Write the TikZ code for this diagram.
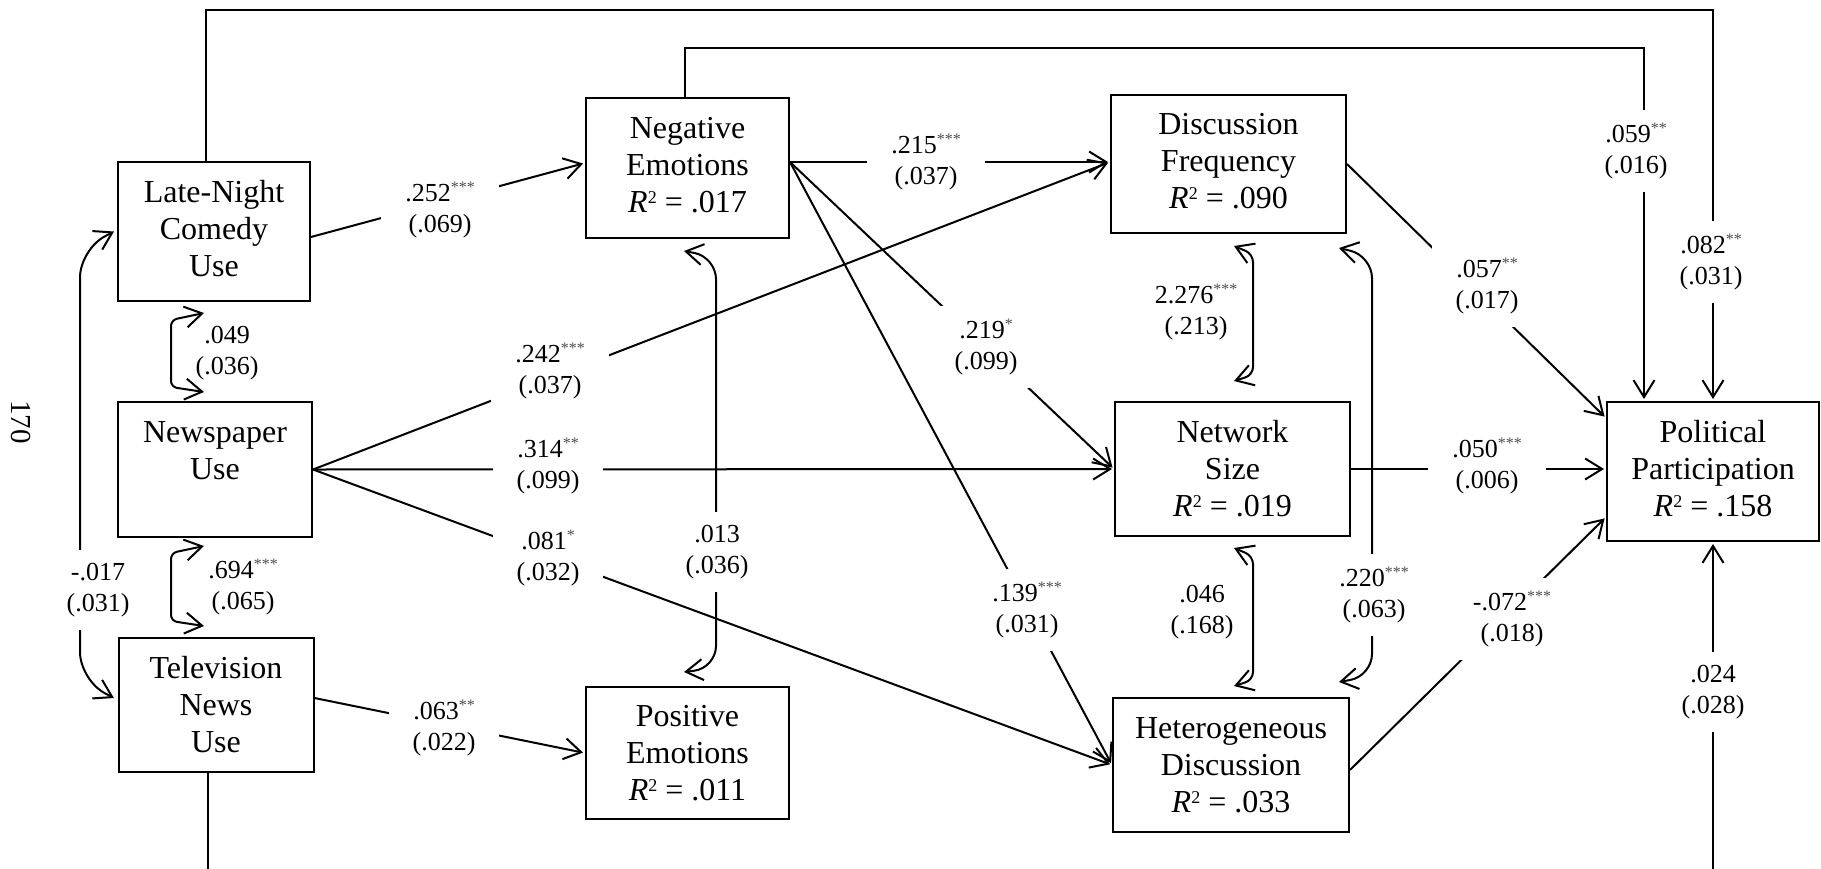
\documentclass[tikz,border=0pt]{standalone}
\usepackage{fontspec}
\setmainfont{Liberation Serif}
\usetikzlibrary{arrows.meta}
\definecolor{starcol}{gray}{0.3}
% significance stars and R-squared lines
\newcommand{\sigstar}[1]{\raisebox{9pt}{\fontsize{16}{16}\selectfont\color{starcol}#1}}
\newcommand{\rsq}[1]{\textit{R}\raisebox{9pt}{\fontsize{18}{18}\selectfont 2} = #1}
\newcommand{\coef}[3]{#1\sigstar{#2}\\(#3)}
\begin{document}
\begin{tikzpicture}[x=1pt,y=-1pt,
  >={Straight Barb[length=17pt,width=21pt]},
  box/.style={draw, line width=2pt, align=center, inner sep=0pt,
    font=\fontsize{32}{37}\selectfont},
  raised/.style={text depth=7pt},
  lab/.style={align=center, fill=white, inner xsep=24pt, inner ysep=13pt,
    font=\fontsize{26}{31}\selectfont},
  labn/.style={align=center, inner sep=0pt, font=\fontsize{26}{31}\selectfont},
  con/.style={line width=2pt, ->, shorten >=2pt},
  corr/.style={line width=2pt, <->}]
\useasboundingbox (0,0) rectangle (1821,868);
\clip (0,0) rectangle (1821,868);

% variables
\node[box, raised, minimum width=192pt, minimum height=139pt] (ln) at (214,231.5) {Late-Night\\Comedy\\Use};
\node[box, minimum width=194pt, minimum height=135pt] (np) at (215,469.5) {Newspaper\\Use\\\mbox{}};
\node[box, minimum width=195pt, minimum height=134pt] (tv) at (216,705) {Television\\News\\Use};
\node[box, raised, minimum width=203pt, minimum height=140pt] (ne) at (687.5,168) {Negative\\Emotions\\\rsq{.017}};
\node[box, minimum width=203pt, minimum height=132pt] (pe) at (687.5,753) {Positive\\Emotions\\\rsq{.011}};
\node[box, raised, minimum width=235pt, minimum height=138pt] (df) at (1228.5,164) {Discussion\\Frequency\\\rsq{.090}};
\node[box, minimum width=235pt, minimum height=134pt] (ns) at (1232.5,469) {Network\\Size\\\rsq{.019}};
\node[box, minimum width=236pt, minimum height=134pt] (hd) at (1231,765) {Heterogeneous\\Discussion\\\rsq{.033}};
\node[box, raised, minimum width=212pt, minimum height=139pt] (pp) at (1713,471.5) {Political\\Participation\\\rsq{.158}};

% page number
\node[rotate=-90, font=\fontsize{29}{29}\selectfont] (pg) at (21,422) {170};

% connection points
\coordinate (topA) at (0,10);
\coordinate (topB) at (0,48);
\coordinate (botA) at (0,900);
\coordinate (lnUp) at ([xshift=-8pt]ln.north);
\coordinate (neUp) at ([xshift=-2.5pt]ne.north);
\coordinate (tvDown) at ([xshift=-8pt]tv.south);
\coordinate (ppIn) at ([xshift=-69pt]pp.north);
\coordinate (lnOut) at ([yshift=-5.5pt]ln.east);
\coordinate (neIn) at ([yshift=5pt]ne.west);
\coordinate (neOut) at ([yshift=6pt]ne.east);
\coordinate (dfIn) at ([yshift=2pt]df.west);
\coordinate (tvOut) at ([yshift=7pt]tv.east);
\coordinate (hdOut) at ([yshift=-5pt]hd.east);

% direct paths
\draw[con] (lnOut) -- (neIn);
\draw[con] (tvOut) -- (pe.west);
\draw[con] (np.east) -- (dfIn);
\draw[con] (np.east) -- (ns.west);
\draw[con] (np.east) -- (hd.west);
\draw[con] (neOut) -- (dfIn);
\draw[con] (neOut) -- (ns.west);
\draw[con] (neOut) -- (hd.west);
\draw[con] (df.east) -- ([yshift=53.5pt]pp.west);
\draw[con] (ns.east) -- (ns.east -| pp.west);
\draw[con] (hdOut) -- ([yshift=-45.5pt]pp.west);

% long paths around the model
\draw[con] (lnUp) -- (lnUp |- topA) -| (pp.north);
\draw[con] (neUp) -- (neUp |- topB) -| (ppIn);
\draw[con] (tvDown) -- (tvDown |- botA) -| (pp.south);

% covariances
\draw[corr, rounded corners=6pt] ([shift={(-10pt,-11pt)}]ln.south) -- ++(-33,7) -- ++(0,67) -- ([shift={(-11pt,9pt)}]np.north);
\draw[corr, rounded corners=6pt] ([shift={(-11pt,-8pt)}]np.south) -- ++(-33,7) -- ++(0,68) -- ([shift={(-12pt,11pt)}]tv.north);
\draw[corr, rounded corners=28pt] ([xshift=-3pt]ln.west) -- ++(-34,18) -- ++(0,430.5) -- ([shift={(-3.6pt,7pt)}]tv.west);
\draw[corr, rounded corners=22pt] ([shift={(-3.5pt,-12pt)}]ne.south) -- ++(32,6) -- ++(0,411) -- ([shift={(-3.5pt,14pt)}]pe.north);
\draw[corr, rounded corners=8pt] ([shift={(5.5pt,-12pt)}]df.south) -- ++(19,8) -- ++(0,121) -- ([shift={(1.5pt,20pt)}]ns.north);
\draw[corr, rounded corners=8pt] ([shift={(1.5pt,-11pt)}]ns.south) -- ++(19,8) -- ++(0,124) -- ([shift={(3pt,11pt)}]hd.north);
\draw[corr, rounded corners=22pt] ([shift={(-8pt,-14pt)}]df.south east) -- ++(33,8) -- ++(0,420) -- ([shift={(-11pt,15pt)}]hd.north east);

% estimates
\node[lab] (e1) at (440,210) {\coef{.252}{***}{.069}};
\node[lab] (e2) at (550,371) {\coef{.242}{***}{.037}};
\node[lab] (e3) at (548,466) {\coef{.314}{**}{.099}};
\node[lab] (e4) at (548,558) {\coef{.081}{*}{.032}};
\node[lab] (e5) at (444,728) {\coef{.063}{**}{.022}};
\node[labn] (e6) at (227,353) {.049\\(.036)};
\node[labn] (e7) at (243,587) {\coef{.694}{***}{.065}};
\node[lab] (e8) at (98,590) {-.017\\(.031)};
\node[lab] (e9) at (926,162) {\coef{.215}{***}{.037}};
\node[lab] (e10) at (986,347) {\coef{.219}{*}{.099}};
\node[lab] (e11) at (717,552) {.013\\(.036)};
\node[lab] (e12) at (1027,610) {\coef{.139}{***}{.031}};
\node[labn] (e13) at (1196,312) {\coef{2.276}{***}{.213}};
\node[labn] (e14) at (1202,612) {.046\\(.168)};
\node[lab] (e15) at (1374,595) {\coef{.220}{***}{.063}};
\node[lab] (e16) at (1487,286) {\coef{.057}{**}{.017}};
\node[lab] (e17) at (1487,466) {\coef{.050}{***}{.006}};
\node[lab] (e18) at (1512,619) {\coef{-.072}{***}{.018}};
\node[lab] (e19) at (1636,151) {\coef{.059}{**}{.016}};
\node[lab] (e20) at (1711,262) {\coef{.082}{**}{.031}};
\node[lab] (e21) at (1713,692) {.024\\(.028)};
\end{tikzpicture}
\end{document}
